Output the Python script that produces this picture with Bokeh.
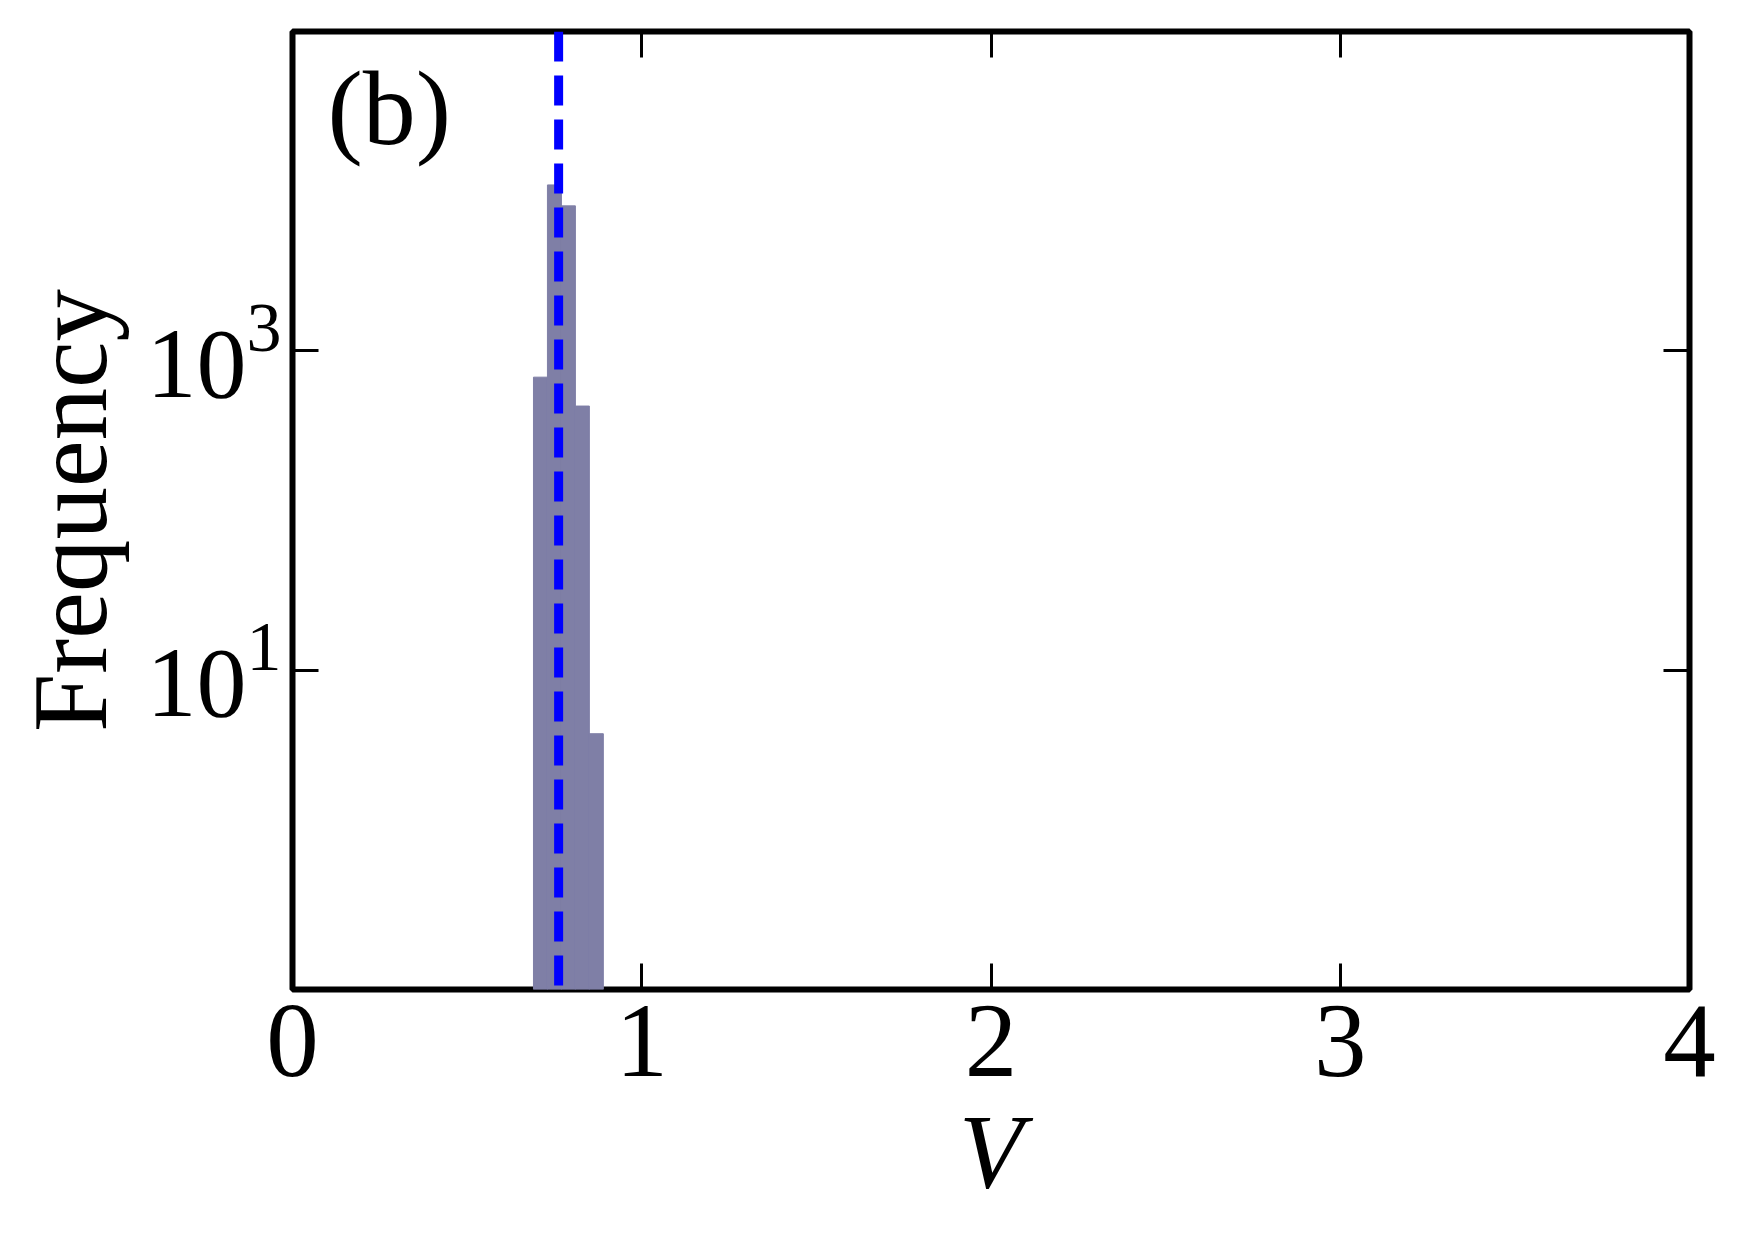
from bokeh.plotting import figure
from bokeh.models import (Range1d, FixedTicker, LogTickFormatter, Span, Label,
                          LinearAxis, LogAxis, CustomLabelingPolicy)
from bokeh.embed import file_html
from bokeh.resources import INLINE

# ---- data ----
bin_left = [0.69, 0.73, 0.77, 0.81, 0.85]
bin_right = [0.73, 0.77, 0.81, 0.85, 0.89]
counts = [684, 10940, 8090, 451, 4]
mean_v = 0.762
x_ticks = [0, 1, 2, 3, 4]
y_ticks = [10, 1000]
x_label = "V"
y_label = "Frequency"
panel_label = "(b)"

FONT = "Liberation Serif"
BAR = "#7f7fa6"

p = figure(width=1728, height=1220,
           x_range=Range1d(0, 4), y_range=Range1d(0.1, 1e5),
           y_axis_type="log", output_backend="svg", toolbar_location=None,
           min_border_left=292, min_border_right=39,
           min_border_top=31, min_border_bottom=231)

p.quad(left=bin_left, right=bin_right, top=counts, bottom=[0.1] * len(counts),
       fill_color=BAR, line_color=BAR, line_width=1)

p.add_layout(Span(location=mean_v, dimension="height", line_color="#0000ff",
                  line_width=9, line_dash="30 14"))

p.add_layout(Label(x=0.1, y=3.3e4, text=panel_label, text_font=FONT,
                   text_font_size="106px", text_color="black",
                   text_baseline="alphabetic"))

p.grid.visible = False
p.outline_line_color = "black"
p.outline_line_width = 6
p.background_fill_color = "white"
p.border_fill_color = "white"

xa = p.xaxis[0]
ya = p.yaxis[0]
xa.ticker = FixedTicker(ticks=x_ticks)
ya.ticker = FixedTicker(ticks=y_ticks)
ya.formatter = LogTickFormatter()

for ax in (xa, ya):
    ax.axis_line_color = None
    ax.major_tick_in = 26
    ax.major_tick_out = 0
    ax.major_tick_line_width = 3
    ax.major_tick_line_color = "black"
    ax.minor_tick_line_color = None
    ax.major_label_text_font = FONT
    ax.major_label_text_color = "black"
    ax.axis_label_text_font = FONT
    ax.axis_label_text_font_size = "105px"
    ax.axis_label_text_color = "black"

xa.major_label_text_font_size = "105px"
ya.major_label_text_font_size = "100px"

xa.axis_label = x_label
xa.axis_label_text_font_style = "italic"
xa.major_label_standoff = 16
xa.axis_label_standoff = 14
ya.axis_label = y_label
ya.axis_label_text_font_style = "normal"
ya.major_label_standoff = 11
ya.axis_label_standoff = 15

hide_all = CustomLabelingPolicy(code="""
for (const i of Array.from(indices)) { indices.unset(i) }
return indices
""")

top_ax = LinearAxis(ticker=FixedTicker(ticks=x_ticks))
right_ax = LogAxis(ticker=FixedTicker(ticks=y_ticks))
for ax in (top_ax, right_ax):
    ax.axis_line_color = None
    ax.major_tick_in = 26
    ax.major_tick_out = 0
    ax.major_tick_line_width = 3
    ax.major_tick_line_color = "black"
    ax.minor_tick_line_color = None
    ax.major_label_text_font_size = "4px"
    ax.major_label_standoff = 0
    ax.major_label_policy = hide_all
p.add_layout(top_ax, "above")
p.add_layout(right_ax, "right")

open("out.html", "w").write(file_html(p, INLINE))
